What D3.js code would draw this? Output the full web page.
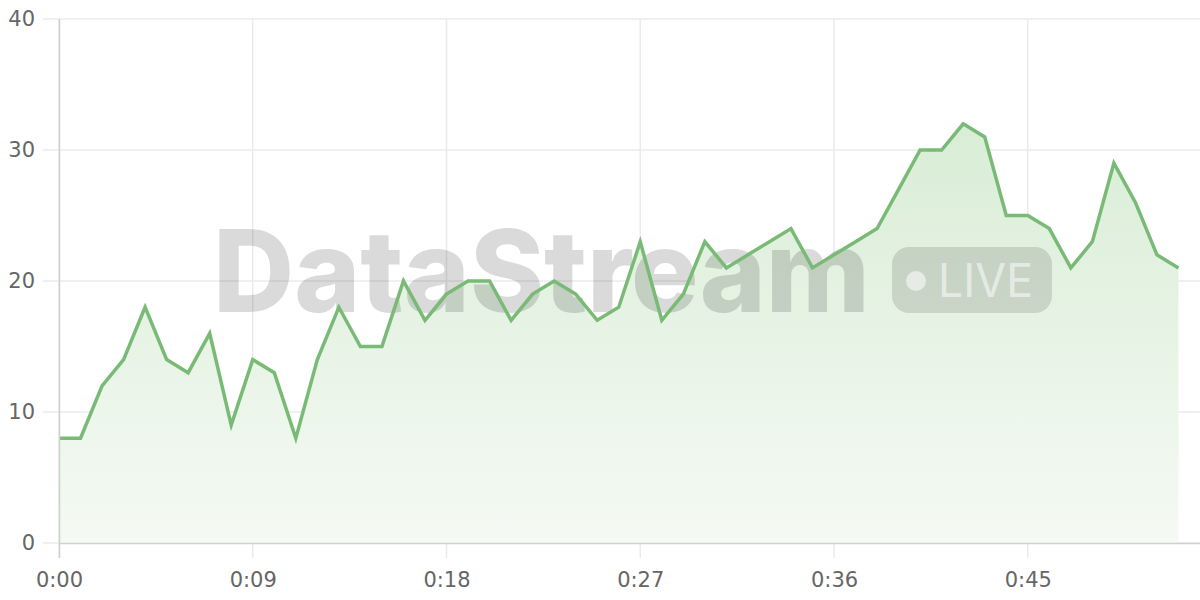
<!DOCTYPE html>
<html><head><meta charset="utf-8">
<script src="https://cdn.jsdelivr.net/npm/d3@7"></script>
<style>html,body{margin:0;padding:0;background:#fff;}svg{display:block;}</style>
</head><body>
<svg id="chart" width="1200" height="600"></svg>
<script>
const seconds = d3.range(0, 53);
const values = [8,8,12,14,18,14,13,16,9,14,13,8,14,18,15,15,20,17,19,20,20,17,19,20,19,17,18,23,17,19,23,21,22,23,24,21,22,23,24,27,30,30,32,31,25,25,24,21,23,29,26,22,21];
const xTicks = [0, 9, 18, 27, 36, 45];
const yTicks = [0, 10, 20, 30, 40];
const watermarkText = "DataStream";
const badgeText = "LIVE";

const svg = d3.select("#chart");
const x = d3.scaleLinear().domain([0, 53]).range([59, 1200]);
const y = d3.scaleLinear().domain([0, 40]).range([543, 19]);
const fmt = s => Math.floor(s/60) + ":" + String(s%60).padStart(2,"0");

const defs = svg.append("defs");
const grad = defs.append("linearGradient").attr("id","fillGrad").attr("x1",0).attr("x2",0)
  .attr("gradientUnits","userSpaceOnUse").attr("y1", y(32)).attr("y2", y(0));
grad.append("stop").attr("offset","0%").attr("stop-color","#d9edd6");
grad.append("stop").attr("offset","100%").attr("stop-color","#f5faf4");

// grid
svg.append("g").selectAll("line").data(yTicks).join("line")
  .attr("x1", 43).attr("x2", 1200).attr("y1", d=>y(d)).attr("y2", d=>y(d))
  .attr("stroke","#ebebeb").attr("stroke-width",1.5);
svg.append("g").selectAll("line").data(xTicks).join("line")
  .attr("x1", d=>x(d)).attr("x2", d=>x(d)).attr("y1", y(40)).attr("y2", 558)
  .attr("stroke","#ebebeb").attr("stroke-width",1.5);

// area
const area = d3.area().x((d,i)=>x(seconds[i])).y0(y(0)).y1(d=>y(d));
svg.append("path").datum(values).attr("d", area).attr("fill","url(#fillGrad)");

// watermark
const wm = svg.append("g");
wm.append("text").text(watermarkText).attr("x", 213).attr("y", 312)
  .attr("font-family","Inter, Liberation Sans, Arial, sans-serif").attr("font-weight",800)
  .attr("font-size",114).attr("textLength",657).attr("lengthAdjust","spacingAndGlyphs")
  .attr("fill","rgba(0,0,0,0.145)");
wm.append("rect").attr("x",892).attr("y",247).attr("width",160).attr("height",66).attr("rx",17)
  .attr("fill","rgba(0,0,0,0.12)");
wm.append("circle").attr("cx",916).attr("cy",281).attr("r",10).attr("fill","rgba(255,255,255,0.55)");
wm.append("text").text(badgeText).attr("x",938).attr("y",297)
  .attr("font-family","Inter, Liberation Sans, Arial, sans-serif").attr("font-size",47)
  .attr("textLength",95).attr("lengthAdjust","spacingAndGlyphs")
  .attr("fill","rgba(255,255,255,0.55)");

// line
const line = d3.line().x((d,i)=>x(seconds[i])).y(d=>y(d));
svg.append("path").datum(values).attr("d", line).attr("fill","none")
  .attr("stroke","#79ba76").attr("stroke-width",3.5).attr("stroke-linejoin","miter");

// axes
const xAxis = svg.append("g").attr("transform",`translate(0,${y(0)})`)
  .call(d3.axisBottom(x).tickValues(xTicks).tickFormat(fmt).tickSize(0).tickPadding(29));
const yAxis = svg.append("g").attr("transform",`translate(${x(0)},0)`)
  .call(d3.axisLeft(y).tickValues(yTicks).tickSize(0).tickPadding(24));
[xAxis,yAxis].forEach(g=>{
  g.select(".domain").attr("stroke","#d0d0d0").attr("stroke-width",1.5);
  g.selectAll("text").attr("font-family","DejaVu Sans, sans-serif").attr("font-size",21).attr("fill","#666");
});
xAxis.select(".domain").attr("d","M59,0.5H1200");
yAxis.select(".domain").attr("d","M0.5,"+y(40)+"V"+(y(0)+15));
</script>
</body></html>
